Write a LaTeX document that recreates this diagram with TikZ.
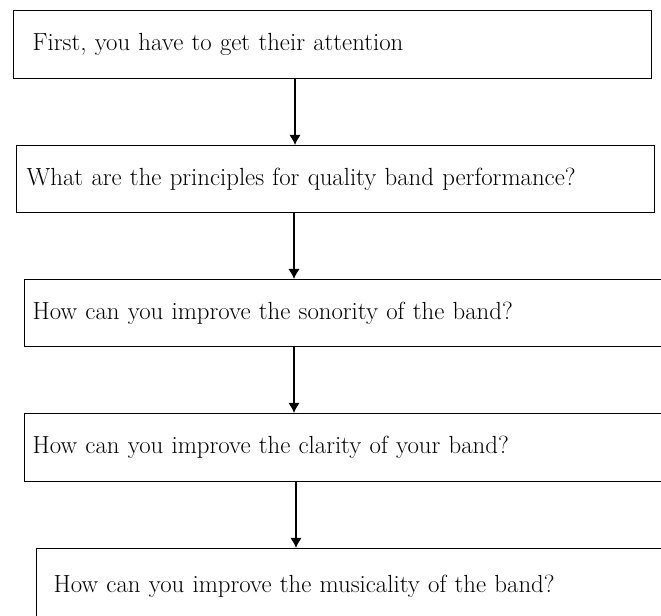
\documentclass[tikz,border=0pt]{standalone}
\usepackage{tikz}
\usetikzlibrary{arrows.meta,positioning}
\tikzset{
	qbox/.style={draw,line width=1.1pt,rectangle,anchor=north west,align=left,inner ysep=0pt,font=\fontsize{18.6}{21}\selectfont},
	flow/.style={-{Latex[length=7.5pt,width=8.5pt]},line width=1.1pt}
}
\begin{document}
\begin{tikzpicture}[x=0.75pt,y=-0.75pt]
	\clip (0,0) rectangle (661,616);
	\node[qbox,text width=450pt,inner xsep=14.25pt,minimum height=51pt] (b1) at (13,10) {First, you have to get their attention};
	\node[qbox,text width=463.5pt,inner xsep=7.5pt,minimum height=50.25pt] (b2) at (16,145) {What are the principles for quality band performance?};
	\node[qbox,text width=498pt,inner xsep=6pt,minimum height=50.25pt] (b3) at (24,279) {How can you improve the sonority of the band?};
	\node[qbox,text width=498pt,inner xsep=6pt,minimum height=51pt] (b4) at (24,413) {How can you improve the clarity of your band?};
	\node[qbox,text width=484.5pt,inner xsep=12.75pt,minimum height=57pt] (b5) at (36,548) {How can you improve the musicality of the band?};
	\coordinate (a1) at (295,0);
	\coordinate (a2) at (294,0);
	\coordinate (a3) at (294,0);
	\coordinate (a4) at (296,0);
	\draw[flow] (b1.south -| a1) -- (b2.north -| a1);
	\draw[flow] (b2.south -| a2) -- (b3.north -| a2);
	\draw[flow] (b3.south -| a3) -- (b4.north -| a3);
	\draw[flow] (b4.south -| a4) -- (b5.north -| a4);
\end{tikzpicture}
\end{document}
